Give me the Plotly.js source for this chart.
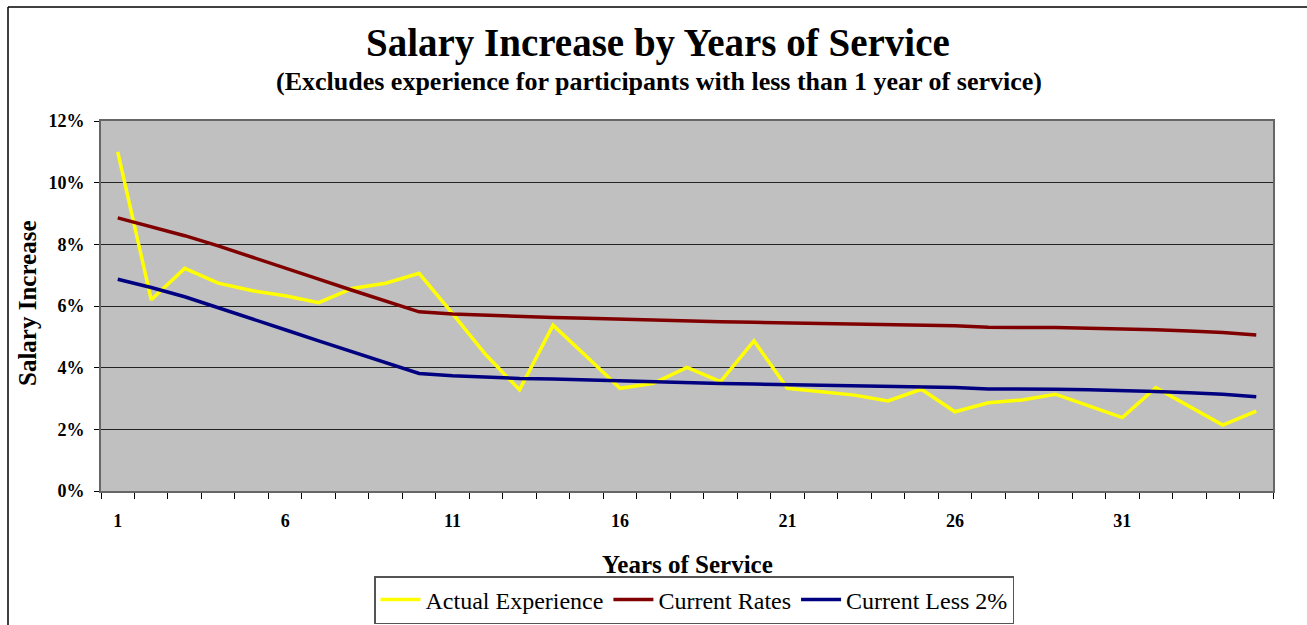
<!DOCTYPE html>
<html>
<head>
<meta charset="utf-8">
<script src="https://cdn.plot.ly/plotly-3.0.1.min.js"></script>
<style>html,body{margin:0;padding:0;background:#fff;}#chart{width:1307px;height:625px;}</style>
</head>
<body>
<div id="chart"></div>
<script>
const years = [1,2,3,4,5,6,7,8,9,10,11,12,13,14,15,16,17,18,19,20,21,22,23,24,25,26,27,28,29,30,31,32,33,34,35];
const actualExperience = [11.0,6.2,7.22,6.74,6.50,6.33,6.11,6.57,6.74,7.06,5.75,4.41,3.28,5.38,4.36,3.33,3.49,4.01,3.55,4.87,3.33,3.22,3.11,2.92,3.30,2.57,2.86,2.95,3.14,2.76,2.38,3.35,2.73,2.14,2.59];
const currentRates = [8.86,8.57,8.28,7.95,7.58,7.23,6.87,6.51,6.15,5.81,5.74,5.70,5.65,5.63,5.60,5.57,5.53,5.51,5.49,5.47,5.45,5.44,5.42,5.40,5.38,5.36,5.31,5.31,5.30,5.28,5.26,5.23,5.19,5.14,5.06];
const currentLess2 = [6.87,6.60,6.30,5.95,5.58,5.23,4.87,4.51,4.15,3.81,3.74,3.69,3.65,3.63,3.60,3.57,3.53,3.51,3.49,3.47,3.45,3.44,3.42,3.40,3.38,3.36,3.31,3.31,3.30,3.28,3.26,3.23,3.19,3.14,3.06];
const xTickVals = [1,6,11,16,21,26,31];
const xTickText = ['1','6','11','16','21','26','31'];
const yTickVals = [0,2,4,6,8,10,12];
const yTickText = ['0%','2%','4%','6%','8%','10%','12%'];

const FONT = 'Liberation Serif, Times New Roman, serif';
const L = 101, R = 1273, T = 121, B = 491;
const px = v => (v - L) / (R - L);
const py = v => (B - v) / (B - T);

const traces = [
  {x: years, y: actualExperience, name: 'Actual Experience', mode: 'lines', line: {color: '#FFFF00', width: 3.5}},
  {x: years, y: currentRates, name: 'Current Rates', mode: 'lines', line: {color: '#800000', width: 3.5}},
  {x: years, y: currentLess2, name: 'Current Less 2%', mode: 'lines', line: {color: '#000080', width: 3.5}}
];

const layout = {
  width: 1307, height: 625,
  margin: {l: L, r: 1307 - R, t: T, b: 625 - B, autoexpand: false},
  paper_bgcolor: '#ffffff',
  plot_bgcolor: '#C0C0C0',
  font: {family: FONT, color: '#000'},
  showlegend: true,
  legend: {
    orientation: 'h', x: px(694), xanchor: 'center', yref: 'container', y: (625 - 576) / 625, yanchor: 'top',
    bordercolor: '#555', borderwidth: 1.5, bgcolor: '#fff',
    font: {family: FONT, size: 24, color: '#000'},
    itemwidth: 40, tracegroupgap: 0
  },
  xaxis: {
    range: [0.5, 35.5],
    tickmode: 'array', tickvals: xTickVals, ticktext: xTickText,
    ticks: '', ticklabelstandoff: 12,
    tickfont: {family: FONT, size: 18, color: '#000', weight: 'bold'},
    showgrid: false, zeroline: false,
    showline: true, linecolor: '#666', linewidth: 2, mirror: true,
    minor: {tick0: 0.5, dtick: 1, ticks: 'outside', ticklen: 6, tickwidth: 1, tickcolor: '#000', showgrid: false}
  },
  yaxis: {
    range: [0, 12],
    tickmode: 'array', tickvals: yTickVals, ticktext: yTickText,
    ticks: 'outside', ticklen: 5, tickwidth: 1, tickcolor: '#000', ticklabelstandoff: 6,
    tickfont: {family: FONT, size: 18, color: '#000', weight: 'bold'},
    showgrid: true, gridcolor: '#222', gridwidth: 1,
    zeroline: false,
    showline: true, linecolor: '#666', linewidth: 2, mirror: true
  },
  annotations: [
    {text: '<b>Salary Increase by Years of Service</b>', xref: 'paper', yref: 'paper',
     x: px(658), y: py(43), xanchor: 'center', yanchor: 'middle', showarrow: false,
     font: {family: FONT, size: 39, color: '#000'}},
    {text: '<b>(Excludes experience for participants with less than 1 year of service)</b>', xref: 'paper', yref: 'paper',
     x: px(659), y: py(81), xanchor: 'center', yanchor: 'middle', showarrow: false,
     font: {family: FONT, size: 26, color: '#000'}},
    {text: '<b>Years of Service</b>', xref: 'paper', yref: 'paper',
     x: px(687), y: py(564), xanchor: 'center', yanchor: 'middle', showarrow: false,
     font: {family: FONT, size: 25, color: '#000'}},
    {text: '<b>Salary Increase</b>', xref: 'paper', yref: 'paper', textangle: -90,
     x: px(27), y: py(303), xanchor: 'center', yanchor: 'middle', showarrow: false,
     font: {family: FONT, size: 25, color: '#000'}}
  ],
  shapes: [
    {type: 'line', xref: 'paper', yref: 'paper', x0: px(8), x1: px(1320), y0: py(7), y1: py(7), line: {color: '#000', width: 1.5}},
    {type: 'line', xref: 'paper', yref: 'paper', x0: px(8), x1: px(8), y0: py(7), y1: py(640), line: {color: '#000', width: 1.5}}
  ]
};

Plotly.newPlot('chart', traces, layout, {displayModeBar: false, staticPlot: true});
</script>
</body>
</html>
